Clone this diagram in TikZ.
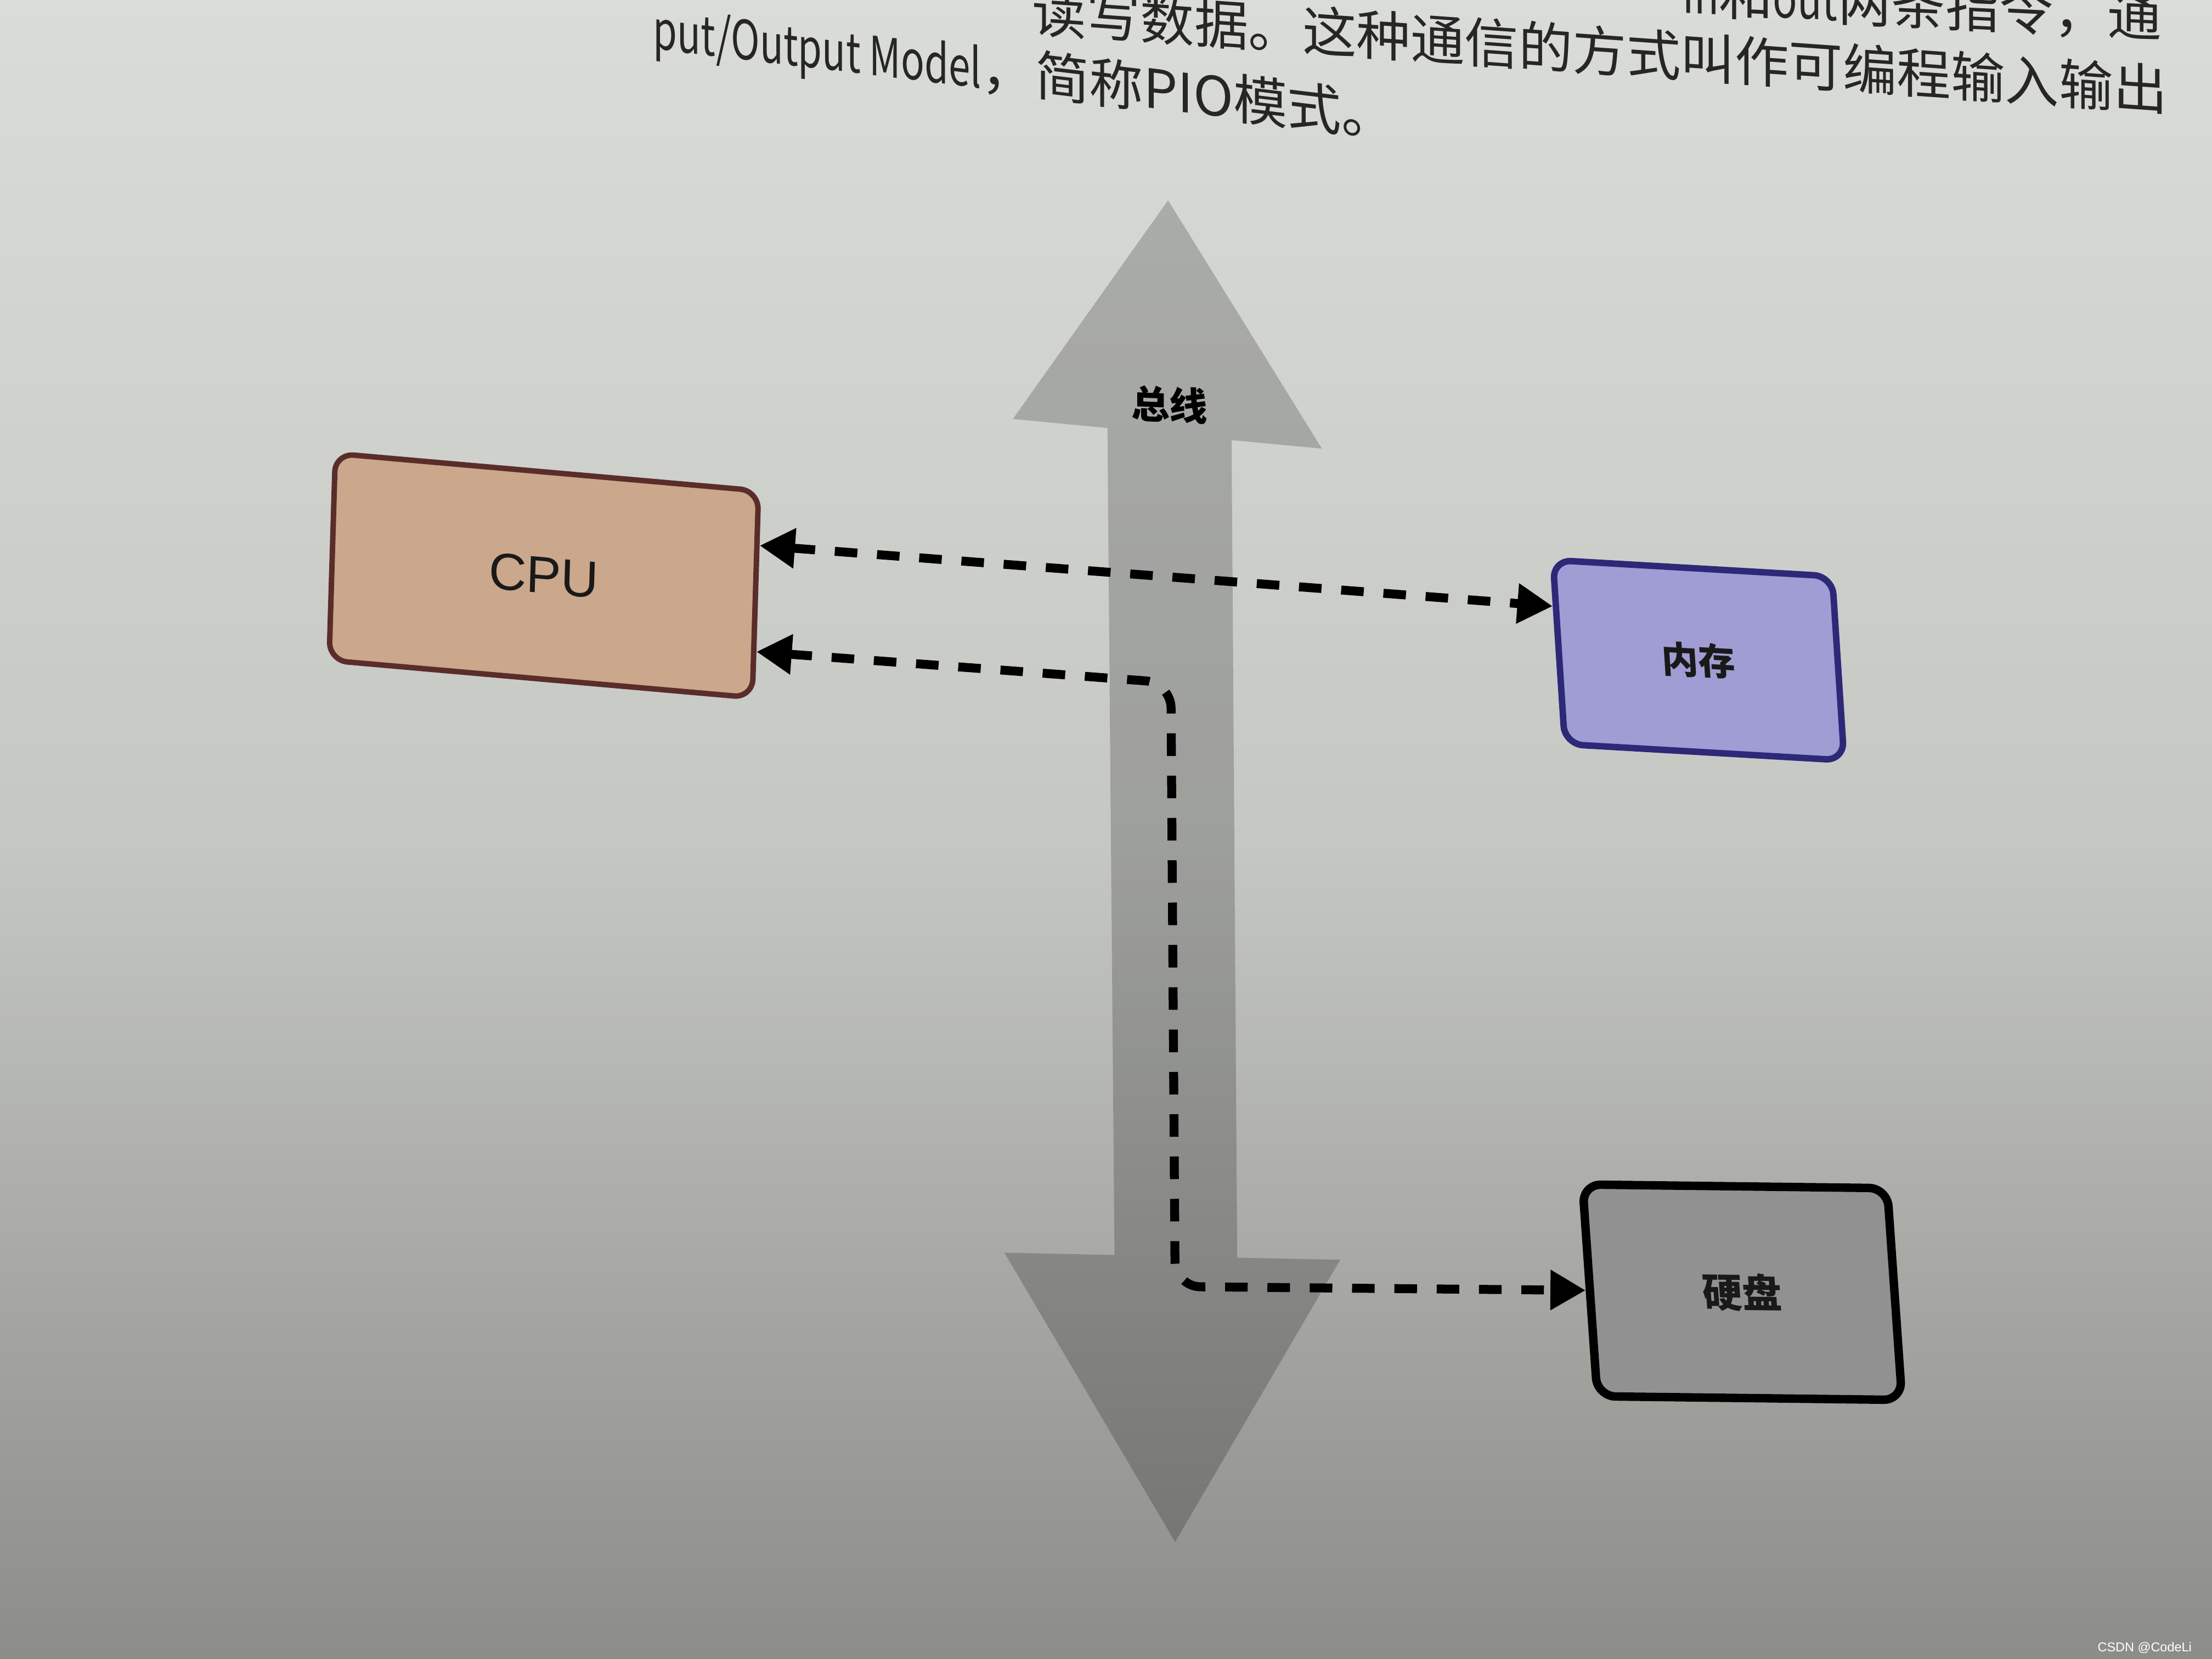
\documentclass[tikz,border=0pt]{standalone}
\usepackage{fontspec}
\usepackage{graphicx}
\setmainfont{Liberation Sans}
\newfontfamily\cjk{Noto Sans CJK SC}
\usetikzlibrary{arrows.meta, calc}
\definecolor{cpaper}{HTML}{D9DCD7}
\definecolor{cpapermid}{HTML}{C5C7C3}
\definecolor{cpaperlow}{HTML}{8C8D89}
\definecolor{ccpu}{HTML}{CBA78B}
\definecolor{ccpuline}{HTML}{5A2D2A}
\definecolor{cmem}{HTML}{9F9DD4}
\definecolor{cmemline}{HTML}{2E2878}
\definecolor{cdisk}{HTML}{919191}
\definecolor{cink}{HTML}{262626}
\tikzset{
  unit/.style={draw, rounded corners=1.3mm, align=center, inner sep=0pt, text=black!90},
  cpubox/.style={unit, fill=ccpu, draw=ccpuline, line width=1.1pt,
                 minimum width=30mm, minimum height=14.7mm,
                 font=\fontsize{10.5}{12}\selectfont, yslant=-0.088, xslant=0.03},
  membox/.style={unit, fill=cmem, draw=cmemline, line width=1.3pt,
                 minimum width=19.8mm, minimum height=13mm,
                 font=\cjk\bfseries\fontsize{7.4}{9}\selectfont, yslant=-0.058, xslant=-0.065},
  diskbox/.style={unit, fill=cdisk, draw=black, line width=1.7pt,
                  minimum width=21.6mm, minimum height=15mm,
                  font=\cjk\bfseries\fontsize{8}{10}\selectfont, yslant=-0.012, xslant=-0.07},
  bus/.style={fill=black, fill opacity=0.2, draw=none},
  lnk/.style={{Triangle[length=2.5mm, width=2.7mm]}-{Triangle[length=2.5mm, width=2.7mm]},
              line width=1.8pt, dash pattern=on 1.6mm off 1.4mm, rounded corners=1.8mm},
  body/.style={font=\cjk\fontsize{10.9}{12}\selectfont, text=cink, inner sep=0pt},
}

\begin{document}
\begin{tikzpicture}
  \useasboundingbox (0,0) rectangle (15.68,-11.76);
  \clip (0,0) rectangle (15.68,-11.76);
  % ---------- page ----------
  \shade[top color=cpaper, bottom color=cpapermid] (0,0) rectangle (15.68,-6.0);
  \shade[top color=cpapermid, bottom color=cpaperlow] (0,-5.99) rectangle (15.68,-11.76);
  % ---------- book text ----------
  \node[body, anchor=east, yslant=-0.05] (t1) at (15.33,-0.12)
    {\scalebox{0.75}[1]{in}和\scalebox{0.75}[1]{out}两条指令，通};
  \node[body, anchor=east, yslant=-0.07] (t2) at (15.37,-0.64)
    {读写数据。这种通信的方式叫作可编程输入输出};
  \node[body, anchor=east, yslant=-0.12] (t3) at (9.9,-0.86)
    {\scalebox{0.72}[1]{put/Output Model}，简称PIO模式。};
  % ---------- bus ----------
  \fill[bus] (8.28,-1.42) -- (9.37,-3.18) -- (8.73,-3.12) -- (8.77,-8.915)
    -- (9.50,-8.93) -- (8.33,-10.93) -- (7.12,-8.88) -- (7.90,-8.896)
    -- (7.85,-3.034) -- (7.18,-2.97) -- cycle;
  \node[font=\cjk\bfseries\fontsize{7.7}{9}\selectfont, yslant=-0.04] (bus) at (8.29,-2.87) {总线};
  % ---------- units ----------
  \node[cpubox] (cpu) at (3.855,-4.08) {CPU};
  \node[membox] (mem) at (12.04,-4.68) {内存};
  \node[diskbox] (disk) at (12.35,-9.16) {硬盘};
  % ---------- links ----------
  \coordinate (b1) at (8.30,-4.84);
  \coordinate (b2) at (8.33,-9.12);
  \draw[lnk] ($(cpu.north east)!0.27!(cpu.south east)$) -- ($(mem.north west)!0.26!(mem.south west)$);
  \draw[lnk] ($(cpu.north east)!0.77!(cpu.south east)$) -- (b1) -- (b2) -- (disk.west);
  \node[font=\fontsize{2.6}{3}\selectfont, text=white, anchor=east] (wm) at (15.66,-11.68) {CSDN @CodeLi};
\end{tikzpicture}
\end{document}
